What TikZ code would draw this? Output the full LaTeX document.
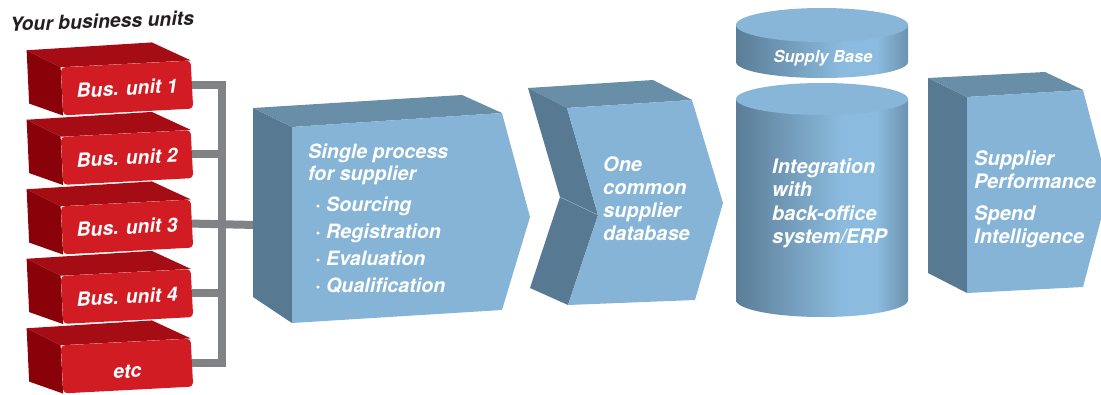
\documentclass[tikz,border=0pt]{standalone}
\usepackage{fontspec}
\setmainfont{TeX Gyre Heros}
\usetikzlibrary{backgrounds,calc}
\definecolor{unitred}{RGB}{210,28,36}
\definecolor{unitdark}{RGB}{166,12,20}
\definecolor{unitdeep}{RGB}{138,2,9}
\definecolor{linkgray}{RGB}{128,130,134}
\definecolor{bfront}{RGB}{134,180,214}
\definecolor{btop}{RGB}{104,142,168}
\definecolor{bside}{RGB}{88,121,146}
\definecolor{cylL}{RGB}{91,125,151}
\definecolor{cylM}{RGB}{139,187,222}
\definecolor{cylR}{RGB}{108,146,174}
\definecolor{cyltop}{RGB}{136,182,216}
\definecolor{headblack}{RGB}{35,31,32}
\pgfdeclarehorizontalshading{cylshade}{100bp}{color(0bp)=(cylL); color(25bp)=(cylL); color(56bp)=(cylM); color(66bp)=(cylM); color(75bp)=(cylR); color(100bp)=(cylR)}
\tikzset{
	unit/.style={rectangle,rounded corners=4pt,fill=unitred,minimum width=130pt,minimum height=48pt,rotate=3,text=white,font=\bfseries\itshape\fontsize{19.4}{22}\selectfont},
	unittop/.style={fill=unitdark},
	unitside/.style={fill=unitdeep},
	link/.style={draw=linkgray,line width=8pt},
	blocktext/.style={anchor=north west,inner sep=0,text=white,align=left,font=\bfseries\itshape\fontsize{20}{23}\selectfont}
}
\begin{document}
\begin{tikzpicture}[x=1pt,y=-1pt]
	\useasboundingbox (0,0) rectangle (1101,394);
	%%%units
	\node[text=headblack,rotate=2,font=\bfseries\itshape\fontsize{19.4}{22}\selectfont] (head) at (102,21) {Your business units};
	\node[unit] (bu1) at (127,88) {Bus. unit 1};
	\node[unit] (bu2) at (127,157.5) {Bus. unit 2};
	\node[unit] (bu3) at (127,227) {Bus. unit 3};
	\node[unit] (bu4) at (127,296.5) {Bus. unit 4};
	\node[unit] (bu5) at (127,366) {\raisebox{-12pt}[0pt][0pt]{etc}};
	\begin{scope}[on background layer]
	\fill[unittop] (bu1.north west) -- ++(-34,-17) -- ($(bu1.north east)+(-39,-18)$) -- (bu1.north east) -- cycle;
	\fill[unitside] (bu1.north west) -- ++(-34,-17) -- ($(bu1.south west)+(-34,-12)$) -- (bu1.south west) -- cycle;
	\fill[unittop] (bu2.north west) -- ++(-34,-17) -- ($(bu2.north east)+(-39,-18)$) -- (bu2.north east) -- cycle;
	\fill[unitside] (bu2.north west) -- ++(-34,-17) -- ($(bu2.south west)+(-34,-12)$) -- (bu2.south west) -- cycle;
	\fill[unittop] (bu3.north west) -- ++(-34,-17) -- ($(bu3.north east)+(-39,-18)$) -- (bu3.north east) -- cycle;
	\fill[unitside] (bu3.north west) -- ++(-34,-17) -- ($(bu3.south west)+(-34,-12)$) -- (bu3.south west) -- cycle;
	\fill[unittop] (bu4.north west) -- ++(-34,-17) -- ($(bu4.north east)+(-39,-18)$) -- (bu4.north east) -- cycle;
	\fill[unitside] (bu4.north west) -- ++(-34,-17) -- ($(bu4.south west)+(-34,-12)$) -- (bu4.south west) -- cycle;
	\fill[unittop] (bu5.north west) -- ++(-34,-17) -- ($(bu5.north east)+(-39,-18)$) -- (bu5.north east) -- cycle;
	\fill[unitside] (bu5.north west) -- ++(-34,-17) -- ($(bu5.south west)+(-34,-12)$) -- (bu5.south west) -- cycle;
	\end{scope}
	
	%%%links
	\coordinate (trunk) at (222,0);
	\coordinate (procin) at (256,225);
	\draw[link] (bu1.east) -- (bu1.east -| trunk) -- (bu5.east -| trunk) -- (bu5.east);
	\draw[link] (bu2.east) -- (bu2.east -| trunk);
	\draw[link] (bu4.east) -- (bu4.east -| trunk);
	\draw[link] (bu3.east) -- (procin);
	
	%%%process
	\fill[bside] (253,108) -- (292,127) -- (292,323) -- (253,297) -- cycle;
	\fill[btop] (253,108) -- (462,95) -- (502,113) -- (292,127) -- cycle;
	\fill[bfront] (292,127) -- (502,113) -- (530,217) -- (502,310) -- (292,323) -- cycle;
	\node[blocktext,font=\bfseries\itshape\fontsize{19.7}{21.5}\selectfont] (proc) at (308,144) {Single process\\for supplier};
	\node[blocktext,font=\bfseries\itshape\fontsize{19.7}{27}\selectfont] (steps) at (315,197) {· Sourcing\\· Registration\\· Evaluation\\· Qualification};
	
	%%%database
	\fill[btop] (528,88) -- (653,80) -- (692,100) -- (567,108) -- cycle;
	\fill[bside] (528,88) -- (567,108) -- (598,215) -- (560,197) -- cycle;
	\fill[bside] (560,197) -- (598,215) -- (568,305) -- (530,288) -- cycle;
	\draw[bside!60!white,thin] (560,197) -- (598,215);
	\fill[bfront] (567,108) -- (692,100) -- (723,203) -- (695,300) -- (568,305) -- (598,215) -- cycle;
	\node[blocktext] (db) at (603,156) {One\\common\\supplier\\database};
	
	%%%cylinders
	\shade[shading=cylshade] (736,25) -- (736,62) arc[start angle=180,end angle=360,x radius=86pt,y radius=16pt] -- (908,25) -- cycle;
	\fill[cyltop] (822,25) ellipse[x radius=86pt,y radius=17pt];
	\node[text=white,inner sep=0,font=\bfseries\itshape\fontsize{16.5}{18}\selectfont] (base) at (823,58) {Supply Base};
	\shade[shading=cylshade] (736,99) -- (736,300) arc[start angle=180,end angle=360,x radius=86pt,y radius=17pt] -- (908,99) -- cycle;
	\fill[cyltop] (822,99) ellipse[x radius=86pt,y radius=16pt];
	\node[blocktext,font=\bfseries\itshape\fontsize{20}{23.5}\selectfont] (erp) at (772,158) {Integration\\with\\back-office\\system/ERP};
	
	%%%performance
	\fill[bside] (928,78) -- (967,97) -- (967,293) -- (928,273) -- cycle;
	\fill[btop] (928,78) -- (1045,72) -- (1083,90) -- (967,97) -- cycle;
	\fill[bfront] (967,97) -- (1083,90) -- (1109,189) -- (1083,287) -- (967,293) -- cycle;
	\node[blocktext] (perf) at (974,150) {Supplier\\Performance\\[9pt]Spend\\Intelligence};
\end{tikzpicture}
\end{document}
